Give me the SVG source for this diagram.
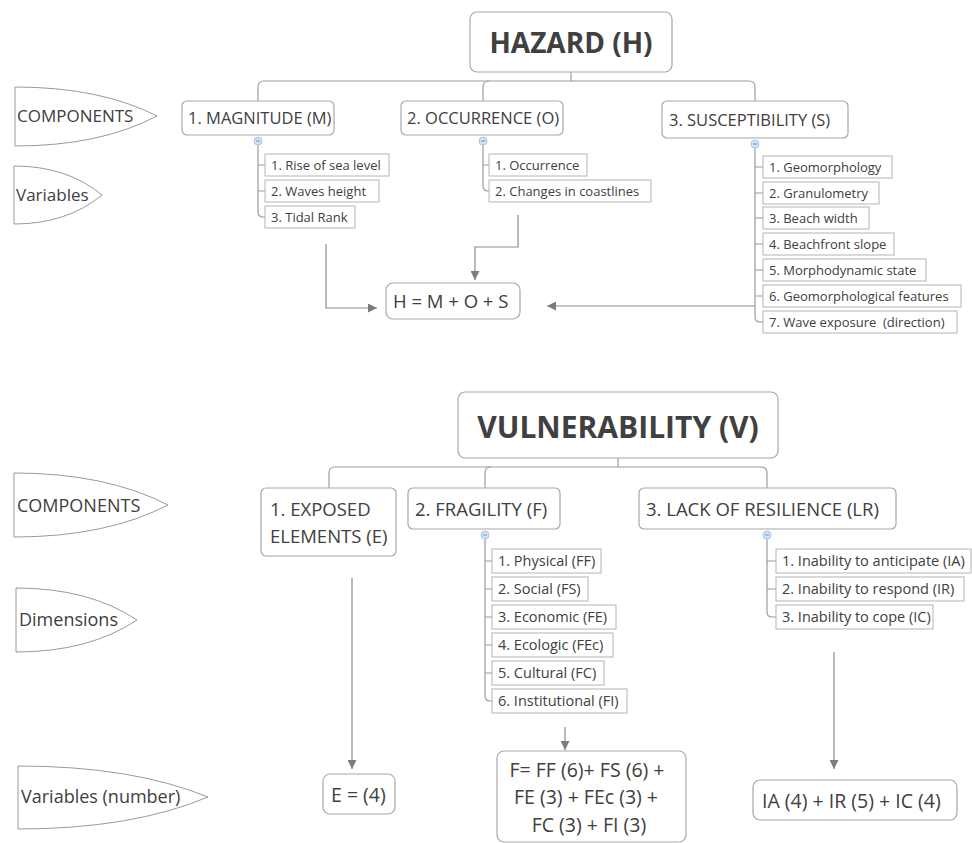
<svg xmlns="http://www.w3.org/2000/svg" width="972" height="843" viewBox="0 0 972 843">
<style>
text{font-family:"Open Sans","Noto Sans",sans-serif;fill:#404040}
.title{font-weight:bold;text-anchor:middle}
.rb{fill:#fff;stroke:#a8a8a8;stroke-width:1.2}
.vb{fill:#fff;stroke:#b4b4b4;stroke-width:1}
.lbl{fill:#fff;stroke:#9a9a9a;stroke-width:1}
.ln{fill:none;stroke:#9c9c9c;stroke-width:1.2}
.ar{fill:none;stroke:#8c8c8c;stroke-width:1.2;marker-end:url(#arr)}
.col{fill:#d3e3f7;stroke:#a9c5ea;stroke-width:1}
.cm{stroke:#6f93c8;stroke-width:1}
.c16{font-size:16.5px}
.c18{font-size:18.5px}
.v13{font-size:13px}
.v14{font-size:14.5px}
.f19{font-size:19.5px}
.l17{font-size:17px}
.l18{font-size:18px}
</style>
<defs>
<marker id="arr" viewBox="0 0 10 10" refX="10" refY="5" markerWidth="9" markerHeight="9" markerUnits="userSpaceOnUse" orient="auto">
<path d="M0,0 L10,5 L0,10 z" fill="#7c7c7c"/>
</marker>
</defs>
<rect width="972" height="843" fill="#fff"/>

<g id="connectors">
<!-- hazard tree -->
<path class="ln" d="M571 72 V81"/>
<path class="ln" d="M258 101 V87 Q258 81 264 81 H749 Q755 81 755 87 V101"/>
<path class="ln" d="M483 101 V87 Q483 81 489 81"/>
<path class="ln" d="M258 145 V212 Q258 217 263 217 H265 M258 165 H265 M258 191 H265"/>
<path class="ln" d="M483 145 V186 Q483 191 488 191 H489 M483 165 H489"/>
<path class="ln" d="M755 148 V317 Q755 322 760 322 H763 M755 167 H763 M755 193 H763 M755 218 H763 M755 244 H763 M755 270 H763 M755 296 H763"/>
<path class="ar" d="M326 244 V308 H377"/>
<path class="ar" d="M518 215 V247 H475 V280"/>
<path class="ar" d="M755 306 H547"/>
<!-- vulnerability tree -->
<path class="ln" d="M618 458 V467"/>
<path class="ln" d="M329 488 V473 Q329 467 335 467 H761 Q767 467 767 473 V488"/>
<path class="ln" d="M485 488 V473 Q485 467 491 467"/>
<path class="ln" d="M485 539 V696 Q485 701 490 701 H492 M485 561 H492 M485 589 H492 M485 617 H492 M485 645 H492 M485 673 H492"/>
<path class="ln" d="M767 539 V612 Q767 617 772 617 H776 M767 561 H776 M767 589 H776"/>
<path class="ar" d="M352 578 V769"/>
<path class="ar" d="M565 727 V750"/>
<path class="ar" d="M834 652 V769"/>
</g>

<g id="label-components-1">
<path class="lbl" d="M15 87 Q100 87 157 116 Q100 146 15 146 Z"/>
<text class="l17" x="17" y="122">COMPONENTS</text>
</g>
<g id="label-variables">
<path class="lbl" d="M14 166 Q67 166 102 195 Q67 224 14 224 Z"/>
<text class="l17" x="16" y="201">Variables</text>
</g>

<g id="hazard">
<rect class="rb" x="470" y="12" width="202" height="60" rx="7"/>
<text class="title" x="571" y="53" style="font-size:28px">HAZARD (H)</text>
</g>

<g id="magnitude">
<rect class="rb" x="182" y="101" width="152" height="34" rx="5"/>
<text class="c16" x="188" y="124">1. MAGNITUDE (M)</text>
<circle class="col" cx="258" cy="141" r="4"/><path class="cm" d="M256 141 H260"/>
</g>
<g id="occurrence">
<rect class="rb" x="401" y="101" width="162" height="34" rx="5"/>
<text class="c16" x="407" y="124">2. OCCURRENCE (O)</text>
<circle class="col" cx="483" cy="141" r="4"/><path class="cm" d="M481 141 H485"/>
</g>
<g id="susceptibility">
<rect class="rb" x="662" y="101" width="186" height="37" rx="5"/>
<text class="c16" x="669" y="126">3. SUSCEPTIBILITY (S)</text>
<circle class="col" cx="755" cy="144" r="4"/><path class="cm" d="M753 144 H757"/>
</g>

<g id="mag-vars">
<rect class="vb" x="265" y="154" width="124" height="22"/><text class="v13" x="271" y="170">1. Rise of sea level</text>
<rect class="vb" x="265" y="180" width="114" height="22"/><text class="v13" x="271" y="196">2. Waves height</text>
<rect class="vb" x="265" y="206" width="90" height="22"/><text class="v13" x="271" y="222">3. Tidal Rank</text>
</g>
<g id="occ-vars">
<rect class="vb" x="489" y="154" width="98" height="22"/><text class="v13" x="495" y="170">1. Occurrence</text>
<rect class="vb" x="489" y="180" width="162" height="22"/><text class="v13" x="495" y="196">2. Changes in coastlines</text>
</g>
<g id="sus-vars">
<rect class="vb" x="763" y="156" width="129" height="22"/><text class="v13" x="769" y="172">1. Geomorphology</text>
<rect class="vb" x="763" y="182" width="116" height="22"/><text class="v13" x="769" y="198">2. Granulometry</text>
<rect class="vb" x="763" y="207" width="106" height="22"/><text class="v13" x="769" y="223">3. Beach width</text>
<rect class="vb" x="763" y="233" width="131" height="22"/><text class="v13" x="769" y="249">4. Beachfront slope</text>
<rect class="vb" x="763" y="259" width="163" height="22"/><text class="v13" x="769" y="275">5. Morphodynamic state</text>
<rect class="vb" x="763" y="285" width="198" height="22"/><text class="v13" x="769" y="301">6. Geomorphological features</text>
<rect class="vb" x="763" y="311" width="194" height="22"/><text class="v13" x="769" y="327" xml:space="preserve">7. Wave exposure  (direction)</text>
</g>

<g id="hazard-formula">
<rect class="rb" x="386" y="283" width="134" height="36" rx="7"/>
<text class="c18" x="393" y="308">H = M + O + S</text>
</g>

<g id="label-components-2">
<path class="lbl" d="M14 473 Q106 473 168 505 Q106 537 14 537 Z"/>
<text class="l18" x="17" y="512">COMPONENTS</text>
</g>
<g id="label-dimensions">
<path class="lbl" d="M16 588 Q89 588 137 620 Q89 652 16 652 Z"/>
<text class="l18" x="19" y="626">Dimensions</text>
</g>
<g id="label-variables-number">
<path class="lbl" d="M18 766 Q132 766 208 797 Q132 829 18 829 Z"/>
<text class="l18" x="21" y="803">Variables (number)</text>
</g>

<g id="vulnerability">
<rect class="rb" x="458" y="392" width="320" height="66" rx="7"/>
<text class="title" x="618" y="438" style="font-size:30px">VULNERABILITY (V)</text>
</g>

<g id="exposed">
<rect class="rb" x="261" y="488" width="135" height="68" rx="5"/>
<text class="c18" x="270" y="516">1. EXPOSED</text>
<text class="c18" x="270" y="543">ELEMENTS (E)</text>
</g>
<g id="fragility">
<rect class="rb" x="408" y="488" width="152" height="41" rx="5"/>
<text class="c18" x="415" y="516">2. FRAGILITY (F)</text>
<circle class="col" cx="485" cy="535" r="4"/><path class="cm" d="M483 535 H487"/>
</g>
<g id="resilience">
<rect class="rb" x="639" y="488" width="257" height="41" rx="5"/>
<text class="c18" x="646" y="516">3. LACK OF RESILIENCE (LR)</text>
<circle class="col" cx="767" cy="535" r="4"/><path class="cm" d="M765 535 H769"/>
</g>

<g id="frag-dims">
<rect class="vb" x="492" y="549" width="109" height="24"/><text class="v14" x="498" y="566">1. Physical (FF)</text>
<rect class="vb" x="492" y="577" width="96" height="24"/><text class="v14" x="498" y="594">2. Social (FS)</text>
<rect class="vb" x="492" y="605" width="124" height="24"/><text class="v14" x="498" y="622">3. Economic (FE)</text>
<rect class="vb" x="492" y="633" width="121" height="24"/><text class="v14" x="498" y="650">4. Ecologic (FEc)</text>
<rect class="vb" x="492" y="661" width="112" height="24"/><text class="v14" x="498" y="678">5. Cultural (FC)</text>
<rect class="vb" x="492" y="689" width="135" height="24"/><text class="v14" x="498" y="706">6. Institutional (FI)</text>
</g>
<g id="res-dims">
<rect class="vb" x="776" y="549" width="195" height="24"/><text class="v14" x="782" y="566">1. Inability to anticipate (IA)</text>
<rect class="vb" x="776" y="577" width="188" height="24"/><text class="v14" x="782" y="594">2. Inability to respond (IR)</text>
<rect class="vb" x="776" y="605" width="157" height="24"/><text class="v14" x="782" y="622">3. Inability to cope (IC)</text>
</g>

<g id="e-formula">
<rect class="rb" x="323" y="774" width="72" height="40" rx="7"/>
<text class="f19" x="331" y="802">E = (4)</text>
</g>
<g id="f-formula">
<rect class="rb" x="497" y="751" width="189" height="91" rx="7"/>
<text class="f19" x="587" y="777" text-anchor="middle">F= FF (6)+ FS (6) +</text>
<text class="f19" x="586" y="804" text-anchor="middle">FE (3) + FEc (3) +</text>
<text class="f19" x="589" y="832" text-anchor="middle">FC (3) + FI (3)</text>
</g>
<g id="lr-formula">
<rect class="rb" x="753" y="780" width="204" height="40" rx="7"/>
<text class="f19" x="762" y="808">IA (4) + IR (5) + IC (4)</text>
</g>
</svg>
